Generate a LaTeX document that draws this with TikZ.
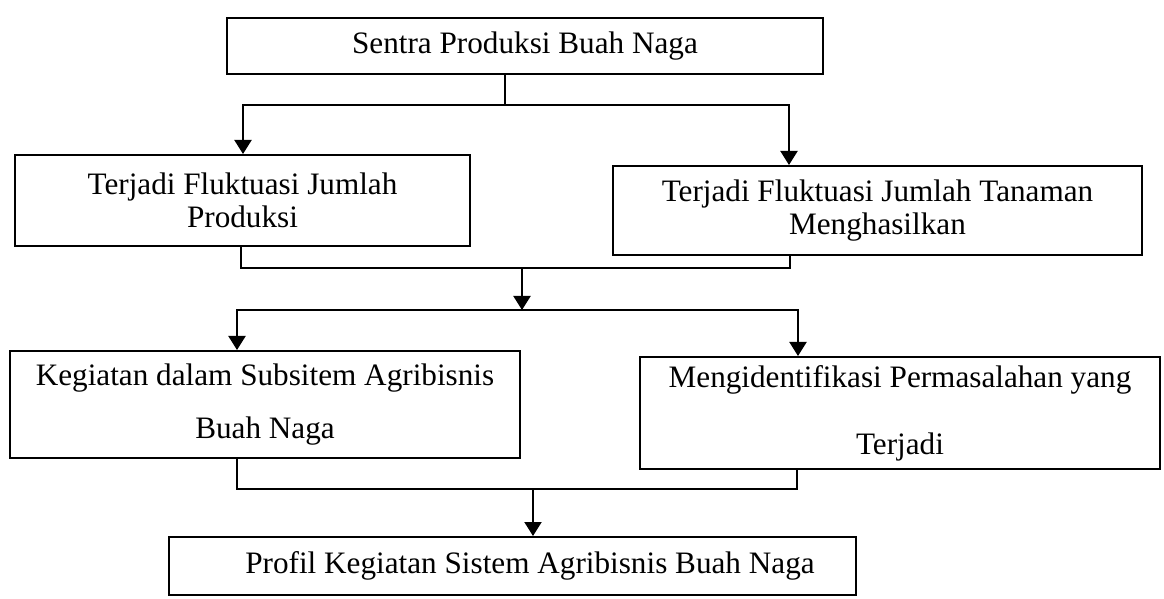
\documentclass[tikz,border=0pt]{standalone}
\usepackage{fontspec}
\setmainfont{Liberation Serif}
\usetikzlibrary{arrows.meta}

\tikzset{
  kotak/.style={draw, line width=1pt, inner sep=0pt, align=center,
    font=\fontsize{15.6}{16.5}\selectfont},
  teks/.style={inner sep=0pt, font=\fontsize{15.6}{16.5}\selectfont},
  garis/.style={line width=1pt},
  panah/.style={line width=1pt, -{Triangle[length=7pt,width=8.5pt]}}
}

\begin{document}
\begin{tikzpicture}[x=0.5pt,y=-0.5pt]
\useasboundingbox (0,0) rectangle (1164,599);
% kotak-kotak
\node[kotak, minimum width=298pt, minimum height=28pt] (sentra) at (525,46) {Sentra Produksi Buah Naga};
\node[kotak, minimum width=227.5pt, minimum height=45.5pt] (prod) at (242.5,200.5) {Terjadi Fluktuasi Jumlah\\Produksi};
\node[kotak, minimum width=264.5pt, minimum height=44.5pt] (tan) at (877.5,210.5) {Terjadi Fluktuasi Jumlah Tanaman\\Menghasilkan};
\node[kotak, minimum width=255pt, minimum height=53.5pt] (keg) at (265,404.5) {Kegiatan dalam Subsitem Agribisnis\\[10pt]Buah Naga};
\node[kotak, minimum width=260pt, minimum height=56pt] (iden) at (900,413) {Mengidentifikasi Permasalahan yang\\[17pt]Terjadi};
\node[kotak, minimum width=343.5pt, minimum height=29pt] (profil) at (512.5,566) {};
\node[teks] (profilteks) at (530,566) {Profil Kegiatan Sistem Agribisnis Buah Naga};
% cabang pertama
\coordinate (c1) at (505,105);
\coordinate (c1a) at (243,105);
\coordinate (c1b) at (789,105);
\draw[garis] (c1 |- sentra.south) -- (c1);
\draw[panah] (c1) -| (c1a |- prod.north);
\draw[panah] (c1) -| (c1b |- tan.north);
% gabung pertama
\coordinate (m1a) at (241,268);
\coordinate (m1b) at (790,268);
\coordinate (m1) at (522,268);
\draw[garis] (m1a |- prod.south) -- (m1a) -- (m1b) -- (m1b |- tan.south);
% cabang kedua
\coordinate (c2) at (522,310);
\coordinate (c2a) at (237,310);
\coordinate (c2b) at (798,310);
\draw[panah] (m1) -- (c2);
\draw[panah] (c2) -| (c2a |- keg.north);
\draw[panah] (c2) -| (c2b |- iden.north);
% gabung kedua
\coordinate (m2a) at (237,489);
\coordinate (m2b) at (797,489);
\coordinate (m2) at (533,489);
\draw[garis] (m2a |- keg.south) -- (m2a) -- (m2b) -- (m2b |- iden.south);
\draw[panah] (m2) -- (m2 |- profil.north);
\end{tikzpicture}
\end{document}
